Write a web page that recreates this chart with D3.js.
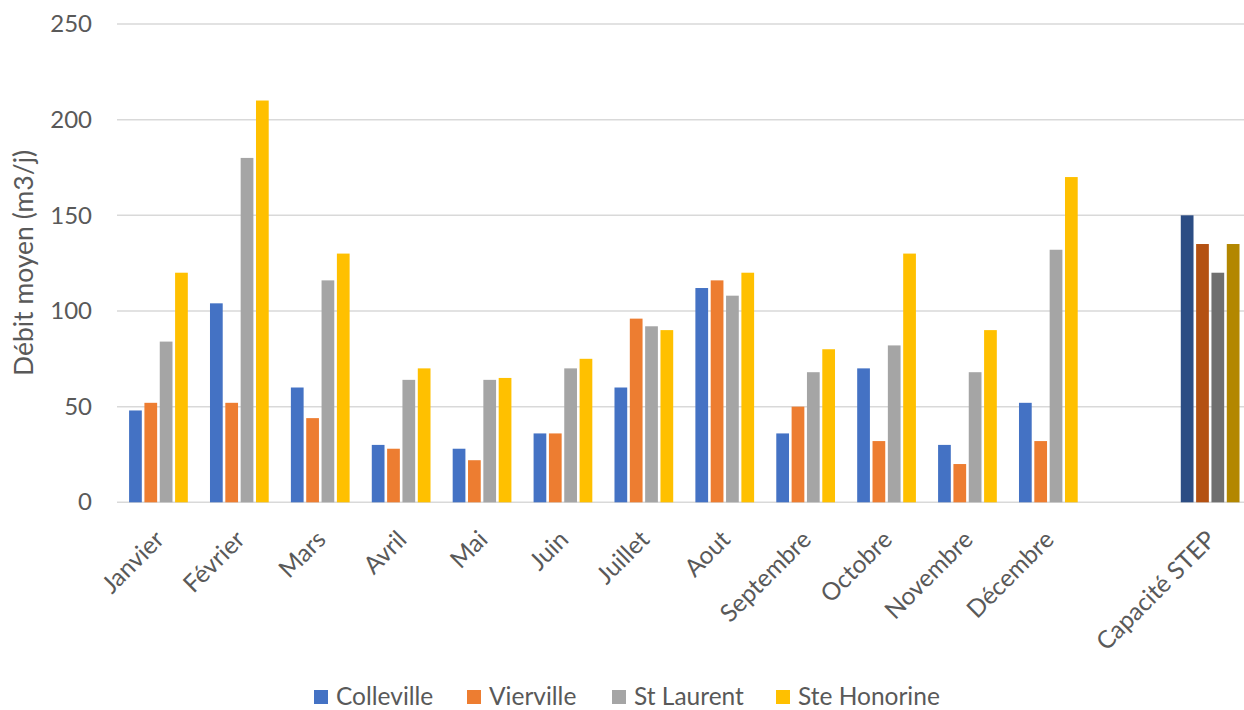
<!DOCTYPE html>
<html lang="fr">
<head>
    <meta charset="UTF-8">
    <title>Débit moyen</title>
    <script src="https://d3js.org/d3.v7.min.js"></script>
    <style>
        body { margin: 0; background: #fff; }
        svg { display: block; }
        text { font-family: Lato, "Open Sans", sans-serif; fill: #595959; }
    </style>
</head>
<body>
    <svg id="svg" width="1244" height="710"></svg>
    <script>
        // categories (blank slot before the capacity group)
        const categories = ["Janvier", "Février", "Mars", "Avril", "Mai", "Juin", "Juillet", "Aout",
            "Septembre", "Octobre", "Novembre", "Décembre", "", "Capacité STEP"];
        const seriesNames = ["Colleville", "Vierville", "St Laurent", "Ste Honorine"];

        // monthly values, m3/j
        const colleville  = [48, 104, 60, 30, 28, 36, 60, 112, 36, 70, 30, 52];
        const vierville   = [52, 52, 44, 28, 22, 36, 96, 116, 50, 32, 20, 32];
        const stLaurent   = [84, 180, 116, 64, 64, 70, 92, 108, 68, 82, 68, 132];
        const steHonorine = [120, 210, 130, 70, 65, 75, 90, 120, 80, 130, 90, 170];
        // capacité STEP per commune
        const capacite = [150, 135, 120, 135];

        const yTicks = [0, 50, 100, 150, 200, 250];

        const colors = ["#4472C4", "#ED7D31", "#A5A5A5", "#FFC000"];
        const capColors = ["#2C4D84", "#B45112", "#6F6F6F", "#B38700"];

        const svg = d3.select("#svg");

        const x0 = d3.scaleBand()
            .domain(categories)
            .range([118, 1250.6])
            .paddingInner(0.274)
            .paddingOuter(0.137);

        const x1 = d3.scaleBand()
            .domain(seriesNames)
            .range([0, x0.bandwidth()])
            .paddingInner(0.17);

        const y = d3.scaleLinear()
            .domain([0, 250])
            .range([502.3, 24]);

        // gridlines
        svg.append("g")
            .selectAll("line")
            .data(yTicks)
            .enter().append("line")
            .attr("x1", 117)
            .attr("x2", 1244)
            .attr("y1", d => y(d))
            .attr("y2", d => y(d))
            .attr("stroke", "#D9D9D9")
            .attr("stroke-width", 1.5);

        // y axis labels
        const yAxis = svg.append("g")
            .attr("transform", "translate(92,0)")
            .call(d3.axisLeft(y).tickValues(yTicks).tickSize(0).tickPadding(0));
        yAxis.select(".domain").remove();
        yAxis.selectAll("text")
            .style("font-size", "24px")
            .attr("fill", "#595959");

        svg.append("text")
            .attr("transform", "translate(33,263) rotate(-90)")
            .attr("text-anchor", "middle")
            .style("font-size", "26.5px")
            .text("Débit moyen (m3/j)");

        // bar rows
        const rows = categories.map((c, i) => {
            if (i < 12) {
                return {cat: c, vals: [colleville[i], vierville[i], stLaurent[i], steHonorine[i]], cols: colors};
            }
            if (c === "Capacité STEP") {
                return {cat: c, vals: capacite, cols: capColors};
            }
            return {cat: c, vals: [], cols: colors};
        });

        const groups = svg.append("g")
            .selectAll("g")
            .data(rows)
            .enter().append("g")
            .attr("transform", d => `translate(${x0(d.cat)},0)`);

        groups.selectAll("rect")
            .data(d => d.vals.map((v, k) => ({name: seriesNames[k], value: v, color: d.cols[k]})))
            .enter().append("rect")
            .attr("x", d => x1(d.name))
            .attr("width", x1.bandwidth())
            .attr("y", d => y(d.value))
            .attr("height", d => y(0) - y(d.value))
            .attr("fill", d => d.color);

        // x labels
        svg.append("g")
            .selectAll("text")
            .data(categories)
            .enter().append("text")
            .attr("transform", d => `translate(${x0(d) + x0.bandwidth() / 2 + 1},535) rotate(-45)`)
            .attr("text-anchor", "end")
            .attr("dy", "0.35em")
            .style("font-size", "24.5px")
            .text(d => d);

        // legend
        const legend = svg.append("g")
            .selectAll("g")
            .data(seriesNames)
            .enter().append("g")
            .attr("transform", (d, i) => `translate(${[314, 467, 612, 776][i]},0)`);

        legend.append("rect")
            .attr("x", 0)
            .attr("y", 690)
            .attr("width", 14)
            .attr("height", 14)
            .attr("fill", (d, i) => colors[i]);

        legend.append("text")
            .attr("x", 22)
            .attr("y", 696)
            .attr("dy", "0.35em")
            .style("font-size", "24.5px")
            .text(d => d);
    </script>
</body>
</html>
